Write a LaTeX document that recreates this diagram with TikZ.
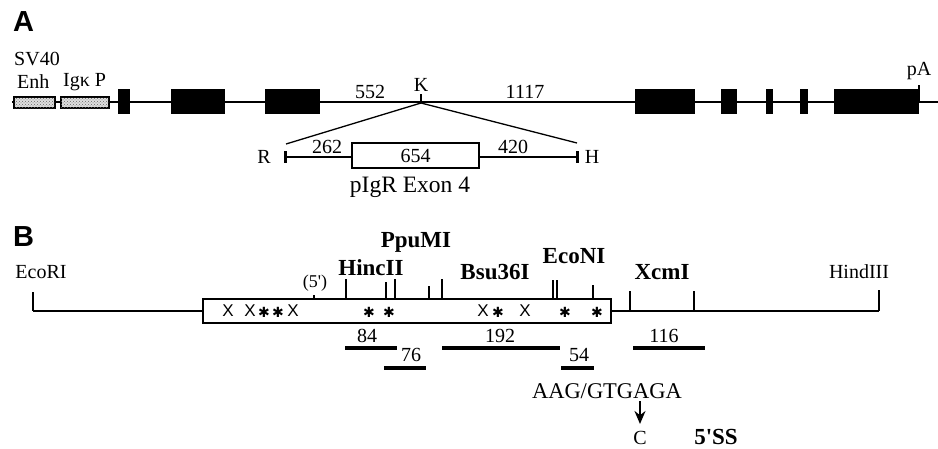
\documentclass[tikz,border=0pt]{standalone}
\usepackage{fontspec}
\setmainfont{Liberation Serif}
\newfontfamily\lsans{Liberation Sans}
\newfontfamily\djv{DejaVu Sans}
\usetikzlibrary{arrows.meta,patterns}
\begin{document}
\begin{tikzpicture}[x=1pt,y=-1pt,
  lbl/.style={inner sep=0pt,font=\fontsize{20}{22}\selectfont},
  blbl/.style={inner sep=0pt,font=\fontsize{23}{25}\selectfont\bfseries},
  panel/.style={inner sep=0pt,anchor=west,font=\fontsize{29}{30}\selectfont\lsans\bfseries},
  exon/.style={fill=black,draw=none},
  promo/.style={draw=black,line width=1.8pt,fill=gray!25,postaction={pattern=crosshatch dots,pattern color=gray!80!black}},
  mainline/.style={line width=2pt},
  thinline/.style={line width=1.1pt},
  tick/.style={line width=1.1pt},
  ttick/.style={line width=2.2pt},
  bar/.style={line width=4pt},
  mk/.style={inner sep=0pt,font=\fontsize{17}{17}\selectfont\lsans},
  ast/.style={inner sep=0pt,font=\fontsize{14}{14}\selectfont\djv}]
\useasboundingbox (0,0) rectangle (938,448);
\fill[white] (0,0) rectangle (938,448);
% ---------- Panel A ----------
\node[panel] (pa) at (13,22) {A};
\node[lbl,anchor=west] (sv) at (14,59) {SV40};
\node[lbl,anchor=west] (enh) at (17,82) {Enh};
\node[lbl,anchor=west] (igk) at (63,82) {Igκ P};
\coordinate (al) at (12,102);
\coordinate (ar) at (938,102);
\draw[mainline] (al) -- (ar);
\draw[promo] (14,97) rectangle (55,108);
\draw[promo] (61,97) rectangle (109,108);
\foreach \a/\b in {118/130,171/225,265/320,635/695,721/737,766/773,800/808,834/919}
  \fill[exon] (\a,89) rectangle (\b,114);
\coordinate (pat) at (919,85);
\coordinate (pab) at (919,102);
\draw[line width=2pt] (pat) -- (pab);
\node[lbl] (pA) at (919,71) {pA};
\node[lbl] (n552) at (370,92) {552};
\node[lbl] (K) at (421,85) {K};
\coordinate (kt) at (421,94);
\coordinate (kb) at (421,103);
\draw[line width=1.6pt] (kt) -- (kb);
\node[lbl] (n1117) at (525,92) {1117};
\coordinate (Rl) at (286,144);
\coordinate (Hl) at (577,143);
\draw[line width=1.3pt] (kb) -- (Rl);
\draw[line width=1.3pt] (kb) -- (Hl);
\coordinate (R0) at (285,157);
\coordinate (H0) at (577,157);
\draw[mainline] (R0) -- (H0);
\draw[line width=3pt] (285,151) -- (285,163);
\draw[line width=3pt] (577,151) -- (577,163);
\node[lbl] (R) at (264,157) {R};
\node[lbl] (H) at (592,157) {H};
\node[draw,line width=1.2pt,fill=white,minimum width=127pt,minimum height=25pt,inner sep=0pt,
  font=\fontsize{20}{22}\selectfont] (ex4) at (415.5,155.5) {654};
\node[lbl] (n262) at (327,147) {262};
\node[lbl] (n420) at (513,147) {420};
\node[inner sep=0pt,font=\fontsize{23.5}{25}\selectfont] (pigr) at (410,187) {pIgR Exon 4};
% ---------- Panel B ----------
\node[panel] (pb) at (13,237) {B};
\node[lbl] (eco) at (41,272) {EcoRI};
\node[lbl] (hind) at (859,272) {HindIII};
\coordinate (et) at (33,292);
\coordinate (eb) at (33,311);
\coordinate (ht) at (879,290);
\coordinate (hb) at (879,311);
\draw[tick] (et) -- (eb);
\draw[tick] (ht) -- (hb);
\node[draw,line width=2pt,fill=white,minimum width=408pt,minimum height=24pt,inner sep=0pt] (box) at (407,311) {};
\draw[thinline] (eb) -- (box.west);
\draw[thinline] (box.east) -- (hb);
% ticks on box
\draw[tick] (314,295) -- (314,299);
\draw[ttick] (346,279) -- (346,299);
\draw[tick] (386,282) -- (386,299);
\draw[ttick] (395,279) -- (395,299);
\draw[tick] (429,286) -- (429,299);
\draw[ttick] (442,279) -- (442,299);
\draw[ttick] (553,280) -- (553,299);
\draw[ttick] (557,280) -- (557,299);
\draw[tick] (593,285) -- (593,299);
\draw[tick] (630,291) -- (630,311);
\draw[tick] (694,291) -- (694,311);
\node[inner sep=0pt,font=\fontsize{18}{19}\selectfont] (five) at (315,283) {(5\textquotesingle)};
\node[blbl] (hinc) at (371,268) {HincII};
\node[blbl] (ppu) at (416,242) {PpuMI};
\node[blbl] (bsu) at (495,272) {Bsu36I};
\node[blbl] (econ) at (574,256) {EcoNI};
\node[blbl] (xcm) at (662,272) {XcmI};
% marks in box
\foreach \x in {228,250,293,483,525} \node[mk] at (\x,311) {X};
\foreach \x in {264,278,369,389,498,565,597} \node[ast] at (\x,312) {✱};
% fragments
\node[lbl] (f84) at (367,336) {84};
\draw[bar] (345,348) -- (397,348);
\node[lbl] (f76) at (411,355) {76};
\draw[bar] (384,368) -- (426,368);
\node[lbl] (f192) at (500,336) {192};
\draw[bar] (442,348) -- (560,348);
\node[lbl] (f54) at (579,355) {54};
\draw[bar] (561,368) -- (594,368);
\node[lbl] (f116) at (664,336) {116};
\draw[bar] (633,348) -- (705,348);
% splice site
\node[inner sep=0pt,font=\fontsize{22.5}{24}\selectfont] (seq) at (607,391) {AAG/GTGAGA};
\node[lbl,anchor=base] (C) at (640,444) {C};
\coordinate (at) at (640,401);
\coordinate (ah) at (640,424);
\draw[line width=2.5pt,-{Stealth[length=13pt,width=11pt]}] (at) -- (ah);
\node[blbl,anchor=base] (ss) at (716,444) {5\textquotesingle SS};
\end{tikzpicture}
\end{document}
